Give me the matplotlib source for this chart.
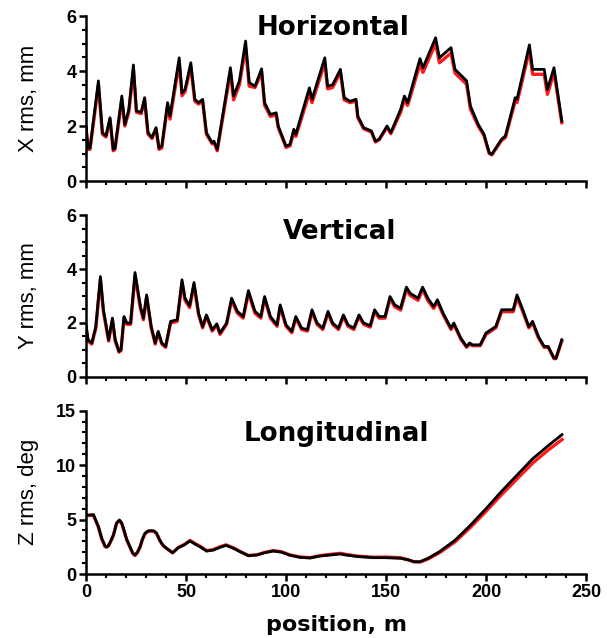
"""Rms beam sizes along the linac: horizontal, vertical, longitudinal"""

import matplotlib
matplotlib.use("Agg")
import matplotlib.pyplot as plt
from matplotlib.ticker import MultipleLocator

plt.rcParams["font.family"] = ["Liberation Sans", "DejaVu Sans"]

# --- Horizontal (X rms, mm) ---
x_pos = [0, 1, 2, 6.2, 8.2, 10, 12, 13.6, 14.5, 17.9, 19.4, 21.4, 23.7, 25.2,
         27.6, 29.3, 31, 33, 35, 36.5, 37.9, 40.8, 42, 46.6, 48, 49.5, 52.4,
         54.4, 56.3, 58.3, 60.2, 63.1, 64, 65.6, 72.2, 73.8, 76.7, 79.8, 81.6,
         84.5, 87.8, 89.3, 92.2, 95.1, 96.1, 100, 102, 103.9, 104.9, 111.7,
         113, 119.4, 120.8, 123.3, 127.2, 129.1, 132, 135, 135.9, 138.8, 142.7,
         144.7, 146.6, 150.5, 152.4, 157.3, 159.2, 160.8, 167, 168.5, 174.8,
         176.7, 182.5, 184.5, 190.3, 192.2, 196.1, 199, 201.6, 202.9, 207.8,
         209.7, 214.6, 215.5, 221.7, 223.3, 229.1, 230.7, 234, 237.9]
x_black = [2.0, 1.2, 1.2, 3.64, 1.76, 1.64, 2.3, 1.15, 1.2, 3.09, 2.06, 2.6,
           4.22, 2.55, 2.5, 3.03, 1.76, 1.58, 1.94, 1.2, 1.27, 2.85, 2.36,
           4.48, 3.2, 3.33, 4.3, 2.97, 2.85, 2.97, 1.76, 1.39, 1.45, 1.15,
           4.12, 3.09, 3.64, 5.09, 3.58, 3.45, 4.08, 2.85, 2.42, 2.48, 2.0,
           1.27, 1.33, 1.88, 1.7, 3.39, 2.97, 4.48, 3.45, 3.5, 4.06, 3.03, 2.9,
           2.97, 2.36, 1.94, 1.82, 1.45, 1.52, 2.0, 1.76, 2.6, 3.09, 2.85, 4.45,
           4.12, 5.21, 4.48, 4.85, 4.06, 3.64, 2.73, 2.06, 1.7, 1.03, 0.97,
           1.52, 1.64, 3.03, 2.97, 4.95, 4.06, 4.06, 3.33, 4.12, 2.18]
x_red = [1.95, 1.15, 1.15, 3.5, 1.7, 1.6, 2.25, 1.1, 1.15, 2.95, 2.0, 2.5,
         4.05, 2.5, 2.45, 2.95, 1.7, 1.55, 1.9, 1.15, 1.2, 2.75, 2.25,
         4.3, 3.1, 3.25, 4.15, 2.9, 2.8, 2.9, 1.7, 1.35, 1.4, 1.1,
         3.95, 2.95, 3.5, 4.85, 3.45, 3.4, 3.95, 2.75, 2.35, 2.4, 1.95,
         1.22, 1.28, 1.78, 1.62, 3.2, 2.85, 4.3, 3.35, 3.4, 3.95, 2.95, 2.85,
         2.9, 2.3, 1.9, 1.78, 1.42, 1.5, 1.95, 1.72, 2.5, 2.95, 2.75, 4.25,
         3.95, 5.0, 4.3, 4.65, 3.92, 3.52, 2.62, 2.0, 1.65, 1.0, 0.95,
         1.48, 1.58, 2.9, 2.85, 4.75, 3.88, 3.88, 3.15, 3.95, 2.12]

# --- Vertical (Y rms, mm) ---
y_pos = [0, 1, 2.9, 4.9, 7.2, 8.7, 11.3, 13.2, 14.6, 16.5, 17.5, 19, 20.4,
         22.3, 24.5, 27.2, 28.7, 30.3, 32.6, 34.6, 36.1, 37.9, 39.8, 42.3,
         45.6, 48, 49.5, 51.8, 54, 56.3, 58.3, 60.2, 63.1, 65.4, 67, 70.3,
         72.8, 75.7, 78.6, 81.2, 84.5, 87.4, 89.3, 92.2, 95.5, 97.1, 100,
         102.9, 104.9, 107.8, 110.7, 113, 115.5, 118.4, 121, 123.3, 126.2,
         128.7, 131, 133.9, 136.5, 138.8, 142.1, 144.3, 146.6, 149.5, 152,
         154.4, 157.3, 160.2, 162.1, 166, 168.3, 170.9, 173.8, 175.7, 178.6,
         182.5, 183.9, 187.4, 190.3, 191.8, 193.2, 197.1, 200, 204.9, 207.8,
         213.6, 215.5, 218.4, 221.4, 223.3, 226.2, 229.1, 231.1, 234, 235,
         237.9]
y_black = [1.93, 1.38, 1.26, 1.87, 3.72, 2.49, 1.38, 2.18, 1.38, 0.95, 1.01,
           2.24, 2.0, 2.0, 3.87, 2.61, 2.18, 3.04, 1.87, 1.26, 1.69, 1.26,
           1.13, 2.06, 2.12, 3.6, 2.92, 2.64, 3.5, 2.36, 1.87, 2.3, 1.75,
           1.97, 1.63, 2.0, 2.92, 2.43, 2.24, 3.2, 2.43, 2.24, 2.98, 2.24,
           1.93, 2.67, 1.93, 1.69, 2.24, 1.81, 1.75, 2.49, 2.0, 1.81, 2.43,
           2.0, 1.81, 2.3, 1.93, 1.81, 2.3, 2.0, 1.9, 2.49, 2.24, 2.24, 2.98,
           2.67, 2.55, 3.33, 3.1, 2.92, 3.33, 2.92, 2.61, 2.86, 2.36, 1.81,
           2.0, 1.44, 1.13, 1.26, 1.19, 1.19, 1.63, 1.87, 2.49, 2.49, 3.04,
           2.49, 1.87, 2.06, 1.5, 1.13, 1.13, 0.7, 0.7, 1.38]
y_red = [1.88, 1.33, 1.22, 1.8, 3.6, 2.42, 1.33, 2.1, 1.33, 0.92, 0.98,
         2.18, 1.95, 1.95, 3.75, 2.55, 2.12, 2.95, 1.82, 1.22, 1.64, 1.22,
         1.1, 2.0, 2.06, 3.5, 2.84, 2.57, 3.4, 2.3, 1.82, 2.24, 1.7,
         1.92, 1.58, 1.95, 2.84, 2.36, 2.18, 3.1, 2.36, 2.18, 2.9, 2.18,
         1.88, 2.6, 1.88, 1.64, 2.18, 1.76, 1.7, 2.42, 1.95, 1.76, 2.36,
         1.95, 1.76, 2.24, 1.88, 1.76, 2.24, 1.95, 1.85, 2.42, 2.18, 2.18, 2.9,
         2.6, 2.48, 3.24, 3.02, 2.84, 3.24, 2.84, 2.54, 2.78, 2.3, 1.76,
         1.95, 1.4, 1.1, 1.22, 1.16, 1.16, 1.58, 1.82, 2.42, 2.42, 2.95,
         2.42, 1.82, 2.0, 1.45, 1.1, 1.1, 0.68, 0.68, 1.33]

# --- Longitudinal (Z rms, deg) ---
z_pos = [0, 1.7, 3.7, 6.2, 7.8, 9.5, 10.3, 11.2, 12.3, 13.7, 15.3, 16.7,
         17.8, 18.7, 20.3, 22, 23.3, 24.5, 25.7, 27, 28.2, 29.5, 31, 32.8, 34,
         35.3, 36.5, 37.8, 39, 40.3, 43.3, 46.2, 49, 52, 54.5, 57, 60.3, 63.7,
         67, 70, 73.7, 77, 81.2, 85.3, 89.5, 93.7, 97.8, 102, 107, 112, 117,
         122, 127, 130, 136, 143.7, 149.5, 157.3, 161.2, 164, 167, 171, 176.7,
         184.5, 192.3, 200, 207.8, 215.6, 223.4, 231.2, 238]
z_black = [5.4, 5.42, 5.45, 4.35, 3.3, 2.57, 2.5, 2.6, 3.0, 3.58, 4.7, 4.96,
           4.7, 4.2, 3.2, 2.5, 1.95, 1.74, 2.0, 2.5, 3.2, 3.74, 3.95, 3.98,
           3.95, 3.74, 3.25, 2.82, 2.55, 2.36, 1.96, 2.42, 2.66, 3.03, 2.75,
           2.5, 2.11, 2.2, 2.45, 2.63, 2.36, 2.05, 1.68, 1.74, 1.96, 2.11,
           2.0, 1.72, 1.53, 1.47, 1.65, 1.74, 1.84, 1.74, 1.6, 1.5, 1.5, 1.44,
           1.29, 1.13, 1.13, 1.44, 2.05, 3.1, 4.5, 6.0, 7.6, 9.1, 10.6, 11.8,
           12.8]
z_red = [5.35, 5.38, 5.4, 4.3, 3.25, 2.52, 2.46, 2.58, 2.97, 3.55, 4.65, 4.9,
         4.65, 4.15, 3.15, 2.45, 1.9, 1.7, 1.96, 2.45, 3.15, 3.7, 3.92, 3.95,
         3.92, 3.7, 3.22, 2.8, 2.53, 2.34, 1.94, 2.45, 2.7, 3.08, 2.8,
         2.55, 2.14, 2.24, 2.5, 2.68, 2.4, 2.08, 1.7, 1.76, 1.99, 2.15,
         2.04, 1.75, 1.56, 1.5, 1.69, 1.8, 1.9, 1.8, 1.64, 1.54, 1.55, 1.5,
         1.3, 1.12, 1.1, 1.38, 1.95, 2.95, 4.3, 5.75, 7.3, 8.75, 10.2, 11.4,
         12.35]

panels = [
    (x_pos, x_black, x_red, "X rms, mm", "Horizontal", 6, 2, 0.5, (0.494, 0.925)),
    (y_pos, y_black, y_red, "Y rms, mm", "Vertical", 6, 2, 0.5, (0.508, 0.895)),
    (z_pos, z_black, z_red, "Z rms, deg", "Longitudinal", 15, 5, 1, (0.50, 0.86)),
]

fig = plt.figure(figsize=(6.07, 6.38), dpi=100)
boxes = [
    [0.1417, 0.7163, 0.8237, 0.2586],
    [0.1417, 0.4091, 0.8237, 0.2539],
    [0.1417, 0.1003, 0.8237, 0.2560],
]
wide = ["DejaVu Sans"]  # titles in the reference are wider than Arial

for i, (pos, blk, red, ylab, title, ymax, ymaj, ymin, tpos) in enumerate(panels):
    ax = fig.add_axes(boxes[i])
    ax.plot(pos, red, color="#ff1a1a", lw=2.4, solid_joinstyle="round")
    ax.plot(pos, blk, color="black", lw=2.0, solid_joinstyle="round")
    ax.set_xlim(0, 250)
    ax.set_ylim(0, ymax)
    ax.spines["top"].set_visible(False)
    ax.spines["right"].set_visible(False)
    for s in ("left", "bottom"):
        ax.spines[s].set_linewidth(1.8)
    ax.xaxis.set_major_locator(MultipleLocator(50))
    ax.xaxis.set_minor_locator(MultipleLocator(10))
    ax.yaxis.set_major_locator(MultipleLocator(ymaj))
    ax.yaxis.set_minor_locator(MultipleLocator(ymin))
    ax.tick_params(which="major", direction="out", length=5, width=1.8,
                   labelsize=13, pad=2)
    ax.tick_params(which="minor", direction="out", length=3, width=1.5)
    for lab in ax.get_yticklabels() + ax.get_xticklabels():
        lab.set_fontweight("bold")
    if i < 2:
        ax.tick_params(axis="x", labelbottom=False)
    ax.set_ylabel(ylab, fontsize=16)
    ax.yaxis.set_label_coords(-0.094, 0.5)
    ax.text(tpos[0], tpos[1], title, transform=ax.transAxes, ha="center",
            va="center", fontsize=18.8, fontweight="bold", family=wide)
    if i == 2:
        ax.set_xlabel("position, m", fontsize=16, fontweight="bold",
                      family=wide, labelpad=10)

fig.savefig("out.png", dpi=100)
